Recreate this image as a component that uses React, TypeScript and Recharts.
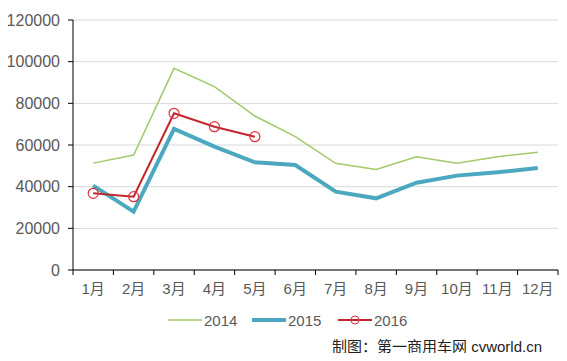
import { LineChart, Line, XAxis, YAxis, CartesianGrid } from "recharts";

const months = ["1月", "2月", "3月", "4月", "5月", "6月", "7月", "8月", "9月", "10月", "11月", "12月"];
const sales2014 = [51300, 55200, 96800, 88000, 73900, 64000, 51200, 48300, 54400, 51200, 54400, 56500];
const sales2015 = [40500, 28000, 67700, 59200, 51700, 50400, 37600, 34400, 41900, 45300, 46900, 49000];
const sales2016 = [36800, 35200, 75200, 68800, 64000];
const yTicks = [0, 20000, 40000, 60000, 80000, 100000, 120000];

const data = months.map((m, i) => ({
  name: m,
  y2014: sales2014[i],
  y2015: sales2015[i],
  y2016: i < sales2016.length ? sales2016[i] : null,
}));

const textColor = "#595959";
const font = "Arial, 'Liberation Sans', 'Noto Sans CJK SC', sans-serif";

function MonthTick(props: any) {
  const { x, y, payload, index } = props;
  const half = payload.offset || 20;
  return (
    <g>
      <line x1={x - half} y1={y - 8} x2={x - half} y2={y - 3} stroke="#000" />
      {index === months.length - 1 && (
        <line x1={x + half} y1={y - 8} x2={x + half} y2={y - 3} stroke="#000" />
      )}
      <text x={x} y={y + 16} textAnchor="middle" fill={textColor} fontSize={15} fontFamily={font}>
        {payload.value}
      </text>
    </g>
  );
}

const legendItems = [
  { label: "2014", color: "#A2C96A", width: 1.5, dot: false, left: 168 },
  { label: "2015", color: "#4BA8BF", width: 4, dot: false, left: 252 },
  { label: "2016", color: "#C0262C", width: 2, dot: true, left: 338 },
];

export default function App() {
  return (
    <div style={{ position: "relative", width: 567, height: 361, background: "#fff", margin: -8 }}>
      <LineChart width={567} height={361} data={data} margin={{ top: 20, right: 9, left: 0, bottom: 61 }}>
        <CartesianGrid vertical={false} stroke="#d9d9d9" />
        <XAxis
          dataKey="name"
          scale="band"
          height={30}
          axisLine={{ stroke: "#000" }}
          tickLine={false}
          tick={<MonthTick />}
          interval={0}
        />
        <YAxis
          width={73}
          domain={[0, 120000]}
          ticks={yTicks}
          axisLine={{ stroke: "#000" }}
          tickLine={{ stroke: "#000" }}
          tickSize={5}
          tickMargin={8}
          tick={{ fill: textColor, fontSize: 16, fontFamily: font }}
        />
        <Line
          dataKey="y2014"
          stroke="#A2C96A"
          strokeWidth={1.5}
          dot={false}
          isAnimationActive={false}
        />
        <Line
          dataKey="y2015"
          stroke="#4BA8BF"
          strokeWidth={4}
          dot={false}
          isAnimationActive={false}
        />
        <Line
          dataKey="y2016"
          stroke="#C0262C"
          strokeWidth={2}
          dot={{ r: 5, stroke: "#E0303A", strokeWidth: 1.2, fill: "none" }}
          isAnimationActive={false}
          connectNulls={false}
        />
      </LineChart>
      {legendItems.map((it) => (
        <div
          key={it.label}
          style={{ position: "absolute", left: it.left, top: 310, display: "flex", alignItems: "center", fontFamily: font, fontSize: 15, lineHeight: 1, color: textColor }}
        >
          <svg width={34} height={20}>
            <line x1={0} y1={10} x2={34} y2={10} stroke={it.color} strokeWidth={it.width} />
            {it.dot && <circle cx={17} cy={10} r={4} stroke="#E0303A" fill="none" />}
          </svg>
          <span style={{ marginLeft: 2 }}>{it.label}</span>
        </div>
      ))}
      <div
        style={{ position: "absolute", left: 332, top: 339, fontFamily: font, fontSize: 15, lineHeight: 1, color: "#222", whiteSpace: "nowrap" }}
      >
        制图：第一商用车网 cvworld.cn
      </div>
    </div>
  );
}
